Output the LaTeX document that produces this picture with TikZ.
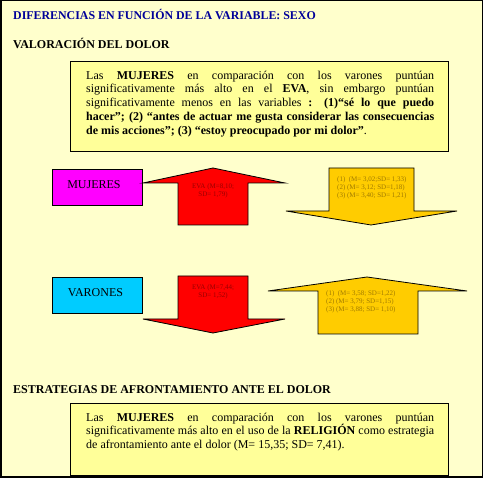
\documentclass[tikz,border=0pt]{standalone}
\usepackage{fontspec}
\setmainfont{Liberation Serif}
\definecolor{bgyellow}{HTML}{FFFFCC}
\definecolor{boxyellow}{HTML}{FFFF99}
\definecolor{arrowyellow}{HTML}{FFCC00}
\definecolor{arrowred}{HTML}{FF0000}
\definecolor{mujmag}{HTML}{FF00FF}
\definecolor{varcyan}{HTML}{00CCFF}
\definecolor{titleblue}{HTML}{000099}
\definecolor{redtext}{HTML}{990000}
\definecolor{yeltext}{HTML}{A07A00}
\begin{document}
\begin{tikzpicture}[x=1pt,y=-1pt,
  heading/.style={inner sep=0pt, anchor=base west, font=\fontsize{12}{14}\selectfont\bfseries},
  infobox/.style={draw=black, line width=0.9pt, fill=boxyellow},
  bodytext/.style={inner sep=0pt, anchor=north west, text width=348pt, align=justify,
    font=\fontsize{12}{13.8}\selectfont},
  groupbox/.style={draw=black, line width=0.9pt, minimum width=90pt, minimum height=36pt, inner sep=0pt},
  grouplabel/.style={inner sep=0pt, font=\fontsize{12}{14}\selectfont},
  bigarrow/.style={draw=black, line width=0.8pt, line join=miter},
  redlbl/.style={inner sep=0pt, align=center, text=redtext, font=\fontsize{7}{8}\selectfont},
  yellbl/.style={inner sep=0pt, align=left, anchor=north west, text=yeltext, font=\fontsize{7}{8}\selectfont}
]
\useasboundingbox (0,0) rectangle (483,478);
\fill[bgyellow] (0,0) rectangle (483,478);
\draw[line width=1.5pt] (0.75,0.75) rectangle (482.25,477.25);

% headings
\node[heading, text=titleblue, font=\fontsize{11.9}{14}\selectfont\bfseries] (title) at (13,20) {DIFERENCIAS EN FUNCIÓN DE LA VARIABLE: SEXO};
\node[heading] (valoracion) at (13,48.3) {VALORACIÓN DEL DOLOR};
\node[heading] (estrategias) at (13,394) {ESTRATEGIAS DE AFRONTAMIENTO ANTE EL DOLOR};

% top info box
\path[infobox] (70,61) rectangle (448,151);
\node[bodytext] (toptext) at (86,70.5) {\tolerance=10000\hyphenpenalty=10000
Las \textbf{MUJERES} en comparación con los varones puntúan\linebreak
significativamente más alto en el \textbf{EVA}, sin embargo puntúan\linebreak
significativamente menos en las variables \textbf{: (1)“sé lo que puedo\linebreak
hacer”; (2) “antes de actuar me gusta considerar las consecuencias\linebreak
de mis acciones”; (3) “estoy preocupado por mi dolor”}.};

% group boxes
\node[groupbox, fill=mujmag, anchor=north west] (mujbox) at (52,169) {};
\node[grouplabel] (mujlbl) at (94,184.5) {MUJERES};
\node[groupbox, fill=varcyan, anchor=north west] (varbox) at (52,277) {};
\node[grouplabel] (varlbl) at (95.5,292.5) {VARONES};

% MUJERES arrows
\draw[bigarrow, fill=arrowred] (178,225) -- (178,183) -- (143,183) -- (213,168) -- (285,183) -- (248,183) -- (248,225) -- cycle;
\node[redlbl] (mujeva) at (213,191) {EVA (M=8,10;\\SD= 1,79)};
\draw[bigarrow, fill=arrowyellow] (329,168) -- (414,168) -- (414,211) -- (457,211) -- (371,225) -- (286,211) -- (329,211) -- cycle;
\node[yellbl] (mujvars) at (337,176) {(1)\ \ (M= 3,02;SD= 1,33)\\(2) (M= 3,12; SD=1,18)\\(3) (M= 3,40; SD= 1,21)};

% VARONES arrows
\draw[bigarrow, fill=arrowred] (178,276) -- (248,276) -- (248,319) -- (285,319) -- (213,333) -- (143,319) -- (178,319) -- cycle;
\node[redlbl] (vareva) at (213,292) {EVA (M=7,44;\\SD= 1,52)};
\draw[bigarrow, fill=arrowyellow] (318,334) -- (318,291) -- (268,291) -- (367,277) -- (467,291) -- (418,291) -- (418,334) -- cycle;
\node[yellbl] (varvars) at (326,290.5) {(1)\ \ (M= 3,58; SD=1,22)\\(2) (M= 3,79; SD=1,15)\\(3) (M= 3,88; SD= 1,10)};

% bottom info box
\path[infobox] (70,403) rectangle (448,475);
\node[bodytext] (bottext) at (86,412.5) {\tolerance=10000\hyphenpenalty=10000
Las \textbf{MUJERES} en comparación con los varones puntúan\linebreak
significativamente más alto en el uso de la \textbf{RELIGIÓN} como estrategia\linebreak
de afrontamiento ante el dolor (M= 15,35; SD= 7,41).};
\end{tikzpicture}
\end{document}
